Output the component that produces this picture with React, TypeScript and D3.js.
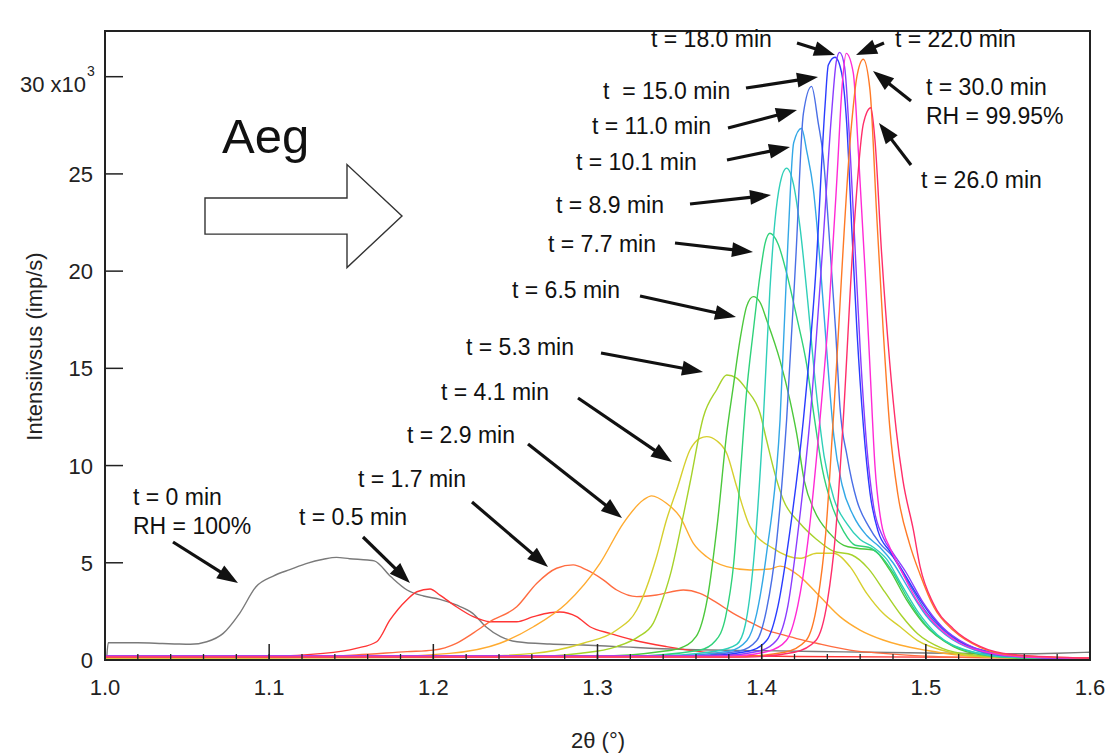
import React from "react";
import * as d3 from "d3";

type Pt = [number, number];

// ---- data: 2θ (°) vs intensity (x10^3 imp/s) ----
const s00: Pt[] = [[1.001,0.05],[1.002,0.89],[1.02,0.89],[1.035,0.85],[1.045,0.82],[1.052,0.81],[1.062,0.94],[1.072,1.37],[1.082,2.4],[1.092,3.77],[1.1025,4.32],[1.113,4.66],[1.123,4.97],[1.133,5.18],[1.141,5.28],[1.149,5.21],[1.16,5.14],[1.164,5.1],[1.174,4.29],[1.184,3.6],[1.194,3.29],[1.204,3.12],[1.214,2.83],[1.224,2.4],[1.232,1.71],[1.241,1.2],[1.251,0.94],[1.271,0.82],[1.291,0.77],[1.312,0.69],[1.35,0.55],[1.4,0.48],[1.45,0.42],[1.5,0.36],[1.55,0.32],[1.58,0.35],[1.6,0.4]];
const s05: Pt[] = [[1.0,0.2],[1.05,0.18],[1.1,0.2],[1.133,0.34],[1.153,0.6],[1.1655,0.94],[1.1736,2.06],[1.1838,3.09],[1.19,3.51],[1.198,3.65],[1.204,3.34],[1.214,2.74],[1.2243,2.23],[1.2345,1.97],[1.2508,1.97],[1.261,2.23],[1.271,2.43],[1.277,2.47],[1.2873,2.23],[1.2954,1.71],[1.3076,1.37],[1.3218,1.03],[1.342,0.69],[1.3624,0.43],[1.3826,0.26],[1.42,0.18],[1.5,0.15],[1.6,0.12]];
const s17: Pt[] = [[1.0,0.15],[1.1,0.12],[1.153,0.26],[1.184,0.43],[1.2,0.51],[1.214,0.86],[1.224,1.37],[1.2345,1.97],[1.2508,2.74],[1.2629,3.94],[1.2751,4.72],[1.2852,4.89],[1.2934,4.63],[1.3035,4.12],[1.3117,3.6],[1.3239,3.26],[1.336,3.34],[1.3523,3.6],[1.3624,3.43],[1.3726,2.95],[1.3827,2.4],[1.3929,1.95],[1.403,1.54],[1.4132,1.29],[1.4233,1.06],[1.4335,0.86],[1.4538,0.51],[1.474,0.34],[1.5,0.2],[1.55,0.1],[1.6,0.08]];
const s29: Pt[] = [[1.0,0.1],[1.15,0.12],[1.21,0.34],[1.2406,0.86],[1.261,1.71],[1.2812,2.92],[1.3015,4.97],[1.3157,7.03],[1.3279,8.23],[1.333,8.44],[1.342,8.06],[1.3502,7.37],[1.3584,6.0],[1.3665,5.31],[1.3787,4.8],[1.3929,4.63],[1.405,4.68],[1.4112,4.83],[1.4233,4.29],[1.4355,3.26],[1.4477,2.23],[1.4599,1.54],[1.474,1.03],[1.4843,0.77],[1.5,0.5],[1.52,0.25],[1.55,0.12],[1.6,0.08]];
const s41: Pt[] = [[1.0,0.1],[1.2,0.12],[1.261,0.34],[1.2913,0.86],[1.3117,1.54],[1.3239,2.57],[1.336,5.31],[1.342,7.2],[1.3482,8.74],[1.3563,10.8],[1.3624,11.4],[1.3665,11.49],[1.3726,11.28],[1.3787,10.63],[1.3848,8.91],[1.3929,6.86],[1.407,5.74],[1.4233,5.23],[1.4335,5.49],[1.4436,5.49],[1.4538,4.8],[1.464,3.43],[1.474,2.4],[1.4843,1.71],[1.495,1.0],[1.51,0.5],[1.53,0.2],[1.56,0.1],[1.6,0.08]];
const s53: Pt[] = [[1.0,0.15],[1.25,0.15],[1.29,0.35],[1.3117,0.69],[1.325,1.2],[1.334,1.9],[1.34,3.2],[1.345,4.6],[1.35,6.5],[1.3563,9.09],[1.3645,12.5],[1.3726,13.9],[1.3787,14.66],[1.3848,14.5],[1.3909,13.9],[1.399,12.69],[1.403,11.3],[1.408,9.6],[1.4132,8.23],[1.4233,7.03],[1.4335,6.2],[1.4436,5.6],[1.455,5.4],[1.465,4.7],[1.475,3.5],[1.485,2.3],[1.495,1.35],[1.51,0.6],[1.53,0.25],[1.56,0.1],[1.6,0.08]];
const s65: Pt[] = [[1.0,0.2],[1.3,0.2],[1.34,0.45],[1.35,0.6],[1.36,1.2],[1.367,3.2],[1.373,7.0],[1.3787,11.66],[1.3827,14.06],[1.3868,16.46],[1.3909,18.2],[1.3949,18.69],[1.399,18.4],[1.403,17.5],[1.4112,15.4],[1.4172,13.37],[1.4213,11.66],[1.426,9.2],[1.432,7.7],[1.4416,6.5],[1.45,5.9],[1.458,5.75],[1.468,5.66],[1.478,4.63],[1.4883,3.09],[1.4985,1.89],[1.5168,0.69],[1.535,0.25],[1.56,0.1],[1.6,0.08]];
const s77: Pt[] = [[1.0,0.2],[1.32,0.2],[1.362,0.5],[1.372,1.0],[1.378,2.2],[1.383,5.0],[1.387,9.5],[1.3905,13.5],[1.395,17.0],[1.399,19.8],[1.402,21.4],[1.405,21.95],[1.41,21.4],[1.4152,19.9],[1.4213,17.66],[1.4274,15.2],[1.432,12.5],[1.437,9.8],[1.443,7.9],[1.45,6.6],[1.457,5.9],[1.465,5.8],[1.472,5.4],[1.48,4.5],[1.49,3.0],[1.5,1.8],[1.515,0.8],[1.535,0.3],[1.56,0.1],[1.6,0.08]];
const s89: Pt[] = [[1.0,0.2],[1.33,0.2],[1.372,0.45],[1.3848,0.8],[1.39,1.8],[1.395,5.0],[1.401,12.35],[1.405,19.0],[1.408,22.5],[1.4112,24.5],[1.4152,25.3],[1.4193,24.5],[1.4233,22.3],[1.428,18.5],[1.433,14.0],[1.438,10.5],[1.444,8.3],[1.452,7.0],[1.46,6.2],[1.468,5.8],[1.476,5.2],[1.485,3.9],[1.495,2.5],[1.507,1.3],[1.525,0.5],[1.55,0.15],[1.6,0.08]];
const s101: Pt[] = [[1.0,0.2],[1.34,0.2],[1.38,0.45],[1.391,1.0],[1.397,2.4],[1.403,5.5],[1.4112,12.35],[1.416,21.5],[1.4195,26.6],[1.4243,27.35],[1.4274,26.2],[1.4315,24.2],[1.436,20.0],[1.44,15.5],[1.444,11.5],[1.449,9.0],[1.456,7.4],[1.464,6.4],[1.472,5.8],[1.48,5.0],[1.49,3.6],[1.5,2.3],[1.512,1.3],[1.53,0.5],[1.55,0.2],[1.6,0.08]];
const s110: Pt[] = [[1.0,0.2],[1.35,0.2],[1.386,0.45],[1.397,1.0],[1.403,2.6],[1.409,6.0],[1.4152,12.35],[1.421,21.0],[1.4254,28.1],[1.4304,29.5],[1.4345,27.6],[1.4375,25.9],[1.441,22.0],[1.445,17.0],[1.4477,13.0],[1.452,10.5],[1.458,8.2],[1.465,6.9],[1.472,6.0],[1.48,5.3],[1.487,4.3],[1.492,3.6],[1.5,2.5],[1.5126,1.4],[1.53,0.55],[1.55,0.2],[1.6,0.08]];
const s150: Pt[] = [[1.0,0.2],[1.36,0.2],[1.392,0.45],[1.403,1.0],[1.41,2.8],[1.417,6.5],[1.4254,12.35],[1.433,20.0],[1.4386,28.5],[1.4406,30.6],[1.4447,31.0],[1.4487,30.2],[1.4518,27.6],[1.455,22.0],[1.458,17.0],[1.462,12.0],[1.466,8.6],[1.471,6.6],[1.478,5.6],[1.485,4.7],[1.495,3.3],[1.505,2.1],[1.52,1.0],[1.54,0.4],[1.57,0.12],[1.6,0.08]];
const s180: Pt[] = [[1.0,0.2],[1.37,0.2],[1.398,0.45],[1.409,1.0],[1.416,2.8],[1.422,6.5],[1.4294,12.35],[1.437,21.0],[1.4425,28.0],[1.4455,30.8],[1.4475,31.25],[1.4505,30.5],[1.454,26.0],[1.457,21.0],[1.46,16.0],[1.464,11.0],[1.468,8.0],[1.474,6.3],[1.48,5.5],[1.488,4.5],[1.498,3.0],[1.51,1.7],[1.525,0.8],[1.545,0.3],[1.58,0.1],[1.6,0.08]];
const s220: Pt[] = [[1.0,0.2],[1.38,0.2],[1.404,0.45],[1.415,1.0],[1.422,2.8],[1.428,6.0],[1.4355,12.35],[1.441,18.0],[1.446,25.0],[1.449,29.5],[1.4515,31.2],[1.4558,30.2],[1.459,26.0],[1.463,20.0],[1.466,15.0],[1.469,10.0],[1.473,7.0],[1.478,5.8],[1.485,4.6],[1.495,3.0],[1.505,1.9],[1.52,0.9],[1.54,0.35],[1.57,0.12],[1.6,0.1]];
const s260: Pt[] = [[1.0,0.15],[1.39,0.15],[1.42,0.4],[1.433,1.0],[1.44,3.0],[1.445,6.5],[1.4497,12.35],[1.4558,21.6],[1.462,27.6],[1.4665,28.4],[1.469,26.75],[1.473,21.0],[1.478,15.3],[1.482,11.8],[1.486,9.26],[1.4924,6.69],[1.4965,4.8],[1.5046,2.9],[1.5168,1.6],[1.533,0.7],[1.553,0.28],[1.6,0.1]];
const s300: Pt[] = [[1.0,0.15],[1.38,0.15],[1.414,0.4],[1.427,1.0],[1.434,3.0],[1.439,6.5],[1.4436,12.35],[1.4548,27.6],[1.458,30.0],[1.4619,30.9],[1.466,29.3],[1.47,23.0],[1.474,17.0],[1.478,12.0],[1.483,8.5],[1.49,6.0],[1.4965,4.4],[1.505,2.7],[1.517,1.5],[1.533,0.65],[1.553,0.25],[1.6,0.1]];

const seriesData: Pt[][] = [s00, s05, s17, s29, s41, s53, s65, s77, s89, s101, s110, s150, s180, s220, s300, s260];
const seriesColors: string[] = ["#7a7a7a", "#ff3535", "#ff6c40", "#ffab30", "#d6cf2e", "#a6d22a", "#4cc83c", "#2fd27a", "#2fcfb8", "#33a8e6", "#4a6fe6", "#2a3cff", "#8a3cff", "#ff2ad6", "#ff7a26", "#ff2e6a"];

const xTickValues: number[] = [1.0, 1.1, 1.2, 1.3, 1.4, 1.5, 1.6];
const xTickLabels: string[] = ["1.0", "1.1", "1.2", "1.3", "1.4", "1.5", "1.6"];
const yTickValues: number[] = [0, 5, 10, 15, 20, 25, 30];
const yTickLabels: string[] = ["0", "5", "10", "15", "20", "25", "30 x10"];

// annotations: label lines, label anchor (data units), arrow start & tip (data units)
type Ann = { lines: string[]; at: Pt; from: Pt; to: Pt };
const annotations: Ann[] = [
  { lines: ["t = 0 min", "RH = 100%"], at: [1.01706, 7.97], from: [1.04142, 6.069], to: [1.08102, 3.96] },
  { lines: ["t = 0.5 min"], at: [1.11817, 6.943], from: [1.15716, 6.326], to: [1.18579, 3.96] },
  { lines: ["t = 1.7 min"], at: [1.15411, 8.897], from: [1.22355, 8.126], to: [1.26985, 4.783] },
  { lines: ["t = 2.9 min"], at: [1.18396, 11.16], from: [1.25767, 11.109], to: [1.31492, 7.303] },
  { lines: ["t = 4.1 min"], at: [1.20467, 13.371], from: [1.28812, 13.474], to: [1.34538, 10.183] },
  { lines: ["t = 5.3 min"], at: [1.2199, 15.686], from: [1.30213, 15.789], to: [1.36426, 14.811] },
  { lines: ["t = 6.5 min"], at: [1.24792, 18.617], from: [1.32589, 18.72], to: [1.38437, 17.64] },
  { lines: ["t = 7.7 min"], at: [1.26985, 20.983], from: [1.34721, 21.446], to: [1.39472, 20.983] },
  { lines: ["t = 8.9 min"], at: [1.27472, 22.989], from: [1.35635, 23.451], to: [1.40569, 23.914] },
  { lines: ["t = 10.1 min"], at: [1.2869, 25.2], from: [1.37888, 25.714], to: [1.41726, 26.383] },
  { lines: ["t = 11.0 min"], at: [1.29665, 27.052], from: [1.37949, 27.36], to: [1.42152, 28.286] },
  { lines: ["t \u00a0= 15.0 min"], at: [1.30335, 28.852], from: [1.39046, 29.417], to: [1.43431, 29.983] },
  { lines: ["t = 18.0 min"], at: [1.33259, 31.526], from: [1.42152, 31.731], to: [1.44467, 31.114] },
  { lines: ["t = 22.0 min"], at: [1.48122, 31.526], from: [1.47452, 31.731], to: [1.45746, 31.114] },
  { lines: ["t = 30.0 min", "RH = 99.95%"], at: [1.5001, 29.057], from: [1.49096, 28.749], to: [1.46782, 30.291] },
  { lines: ["t = 26.0 min"], at: [1.49706, 24.274], from: [1.49096, 25.457], to: [1.47147, 27.617] },
];

const FONT = "'Liberation Sans', Arial, Helvetica, sans-serif";

export default function App() {
  const W = 1107, H = 753;
  const L = 105, R = 1090, T = 31, B = 660;
  const x = d3.scaleLinear().domain([1.0, 1.6]).range([L, R]);
  const y = d3.scaleLinear().domain([0, 32.35]).range([B, T]);
  const line = d3.line<Pt>().x((d) => x(d[0])).y((d) => y(d[1])).curve(d3.curveMonotoneX);
  const minorTicks = d3.range(0, 31).map((i) => 1.0 + i * 0.02);

  const arrow = (a: Pt, b: Pt, key: string) => {
    const x1 = x(a[0]), y1 = y(a[1]), x2 = x(b[0]), y2 = y(b[1]);
    const dx = x2 - x1, dy = y2 - y1;
    const len = Math.hypot(dx, dy);
    const ux = dx / len, uy = dy / len;
    const hl = 21, hw = 7.5;
    const bx = x2 - ux * hl, by = y2 - uy * hl;
    const p1 = [bx - uy * hw, by + ux * hw];
    const p2 = [bx + uy * hw, by - ux * hw];
    return (
      <g key={key}>
        <line x1={x1} y1={y1} x2={bx + ux * 2} y2={by + uy * 2} stroke="#111" strokeWidth={3.2} />
        <polygon points={`${x2},${y2} ${p1[0]},${p1[1]} ${p2[0]},${p2[1]}`} fill="#111" />
      </g>
    );
  };

  // big outline arrow (decorative), in data units
  const bodyL = 1.06091, headX = 1.14741, tipX = 1.18091;
  const midY = 22.834, bodyHalf = 0.93, headHalf = 2.65;
  const bigArrowPts: Pt[] = [
    [bodyL, midY + bodyHalf], [headX, midY + bodyHalf], [headX, midY + headHalf], [tipX, midY],
    [headX, midY - headHalf], [headX, midY - bodyHalf], [bodyL, midY - bodyHalf],
  ];

  return (
    <svg width={W} height={H} style={{ position: "absolute", left: 0, top: 0, background: "#fff" }} fontFamily={FONT}>
      <rect x={0} y={0} width={W} height={H} fill="#fff" />
      {/* curves */}
      <g fill="none" strokeWidth={1.4} strokeLinejoin="round">
        {seriesData.map((s, i) => (
          <path key={i} d={line(s) || ""} stroke={seriesColors[i]} />
        ))}
      </g>
      {/* frame */}
      <rect x={L} y={T} width={R - L} height={B - T} fill="none" stroke="#222" strokeWidth={2} />
      {/* x ticks */}
      {minorTicks.map((v, i) => (
        <line key={"mx" + i} x1={x(v)} x2={x(v)} y1={B} y2={B - 6} stroke="#222" strokeWidth={1.3} />
      ))}
      {xTickValues.map((v, i) => (
        <g key={"x" + i}>
          <line x1={x(v)} x2={x(v)} y1={B} y2={B - 16} stroke="#222" strokeWidth={1.5} />
          <text x={x(v)} y={695} fontSize={22} textAnchor="middle" fill="#222">{xTickLabels[i]}</text>
        </g>
      ))}
      {/* y ticks */}
      {yTickValues.map((v, i) => (
        <g key={"y" + i}>
          <line x1={L} x2={L + 18} y1={y(v)} y2={y(v)} stroke="#222" strokeWidth={1.5} />
          {i === yTickValues.length - 1 ? (
            <text x={86} y={y(v) + 15} fontSize={22} textAnchor="end" fill="#222">{yTickLabels[i]}</text>
          ) : (
            <text x={93} y={y(v) + 8} fontSize={22} textAnchor="end" fill="#222">{yTickLabels[i]}</text>
          )}
        </g>
      ))}
      <text x={87} y={y(30) - 1} fontSize={14} fill="#222">3</text>
      {/* axis titles */}
      <text transform={`translate(42,${(T + B) / 2 + 1}) rotate(-90)`} fontSize={22} textAnchor="middle" fill="#222">Intensiivsus (imp/s)</text>
      <text x={598} y={748} fontSize={22} textAnchor="middle" fill="#222">2θ (°)</text>
      {/* Aeg + big arrow */}
      <text x={x(1.07127)} y={y(26.074)} fontSize={49} fill="#111">Aeg</text>
      <polygon points={bigArrowPts.map((p) => `${x(p[0])},${y(p[1])}`).join(" ")} fill="#fff" stroke="#333" strokeWidth={1.4} />
      {/* annotations */}
      {annotations.map((a, i) => (
        <g key={"a" + i}>
          {a.lines.map((t, j) => (
            <text key={j} x={x(a.at[0])} y={y(a.at[1]) + j * 29} fontSize={23} fill="#111">{t}</text>
          ))}
          {arrow(a.from, a.to, "ar" + i)}
        </g>
      ))}
    </svg>
  );
}
